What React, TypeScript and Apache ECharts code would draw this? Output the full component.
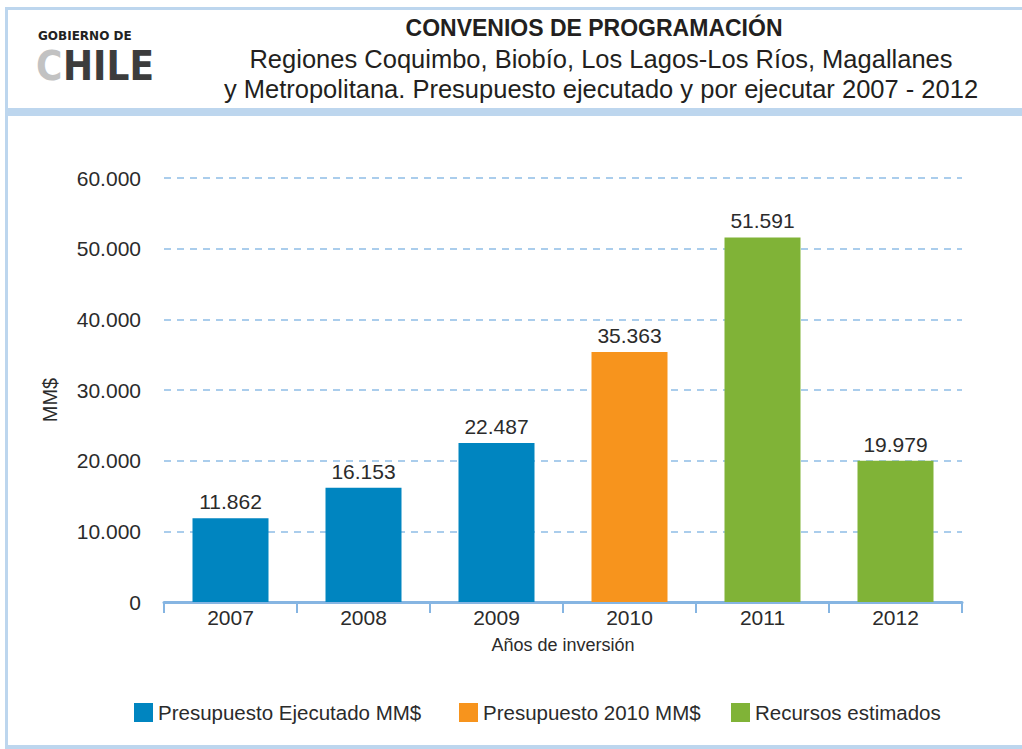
import React, { useEffect, useRef } from "react";
import * as echarts from "echarts";

const categories = ["2007", "2008", "2009", "2010", "2011", "2012"];
const ejecutado = [11862, 16153, 22487, "-", "-", "-"];
const presupuesto2010 = ["-", "-", "-", 35363, "-", "-"];
const estimados = ["-", "-", "-", "-", 51591, 19979];
const seriesNames = ["Presupuesto Ejecutado MM$", "Presupuesto 2010 MM$", "Recursos estimados"];
const yTicks = { min: 0, max: 60000, interval: 10000 };

const FONT = "'Liberation Sans', Arial, sans-serif";
const TXT = "#2b2b2b";
const FRAME = "#bdd6ee";
const fmt = (v: number) => String(v).replace(/\B(?=(\d{3})+(?!\d))/g, ".");

export default function App() {
  const ref = useRef<HTMLDivElement>(null);
  useEffect(() => {
    if (!ref.current) return;
    const chart = echarts.init(ref.current, null, { renderer: "svg" });
    const label = {
      show: true,
      position: "top",
      distance: 6,
      fontFamily: FONT,
      fontSize: 21,
      color: TXT,
      formatter: (p: any) => fmt(p.value),
    };
    const colors = ["#0085c0", "#f7941d", "#80b337"];
    const datas = [ejecutado, presupuesto2010, estimados];
    const legendLefts = [134, 459, 731];
    chart.setOption({
      animation: false,
      backgroundColor: "#ffffff",
      title: [
        {
          text: "CONVENIOS DE PROGRAMACIÓN",
          left: 589,
          top: 11,
          textAlign: "center",
          textStyle: { fontFamily: FONT, fontWeight: "bold", fontSize: 23, color: "#231f20" },
        },
        {
          text: "Regiones Coquimbo, Biobío, Los Lagos-Los Ríos, Magallanes\ny Metropolitana. Presupuesto ejecutado y por ejecutar 2007 - 2012",
          left: 596,
          top: 39,
          textAlign: "center",
          textStyle: { fontFamily: FONT, fontWeight: "normal", fontSize: 25.5, lineHeight: 30, color: "#231f20" },
        },
      ],
      legend: seriesNames.map((n, i) => ({
        data: [n],
        left: legendLefts[i],
        top: 702,
        padding: 0,
        itemWidth: 19,
        itemHeight: 19,
        icon: "rect",
        selectedMode: false,
        textStyle: { fontFamily: FONT, fontSize: 20.5, color: TXT },
      })),
      grid: { left: 164, right: 60, top: 178, bottom: 147 },
      xAxis: {
        type: "category",
        data: categories,
        name: "Años de inversión",
        nameLocation: "middle",
        nameGap: 34,
        nameTextStyle: { fontFamily: FONT, fontSize: 18, color: TXT },
        axisLine: { lineStyle: { color: "#86b5e2", width: 3 } },
        axisTick: { show: true, length: 11, lineStyle: { color: "#86b5e2", width: 2 } },
        axisLabel: { fontFamily: FONT, fontSize: 21, color: TXT, margin: 5 },
      },
      yAxis: {
        type: "value",
        min: yTicks.min,
        max: yTicks.max,
        interval: yTicks.interval,
        name: "MM$",
        nameLocation: "middle",
        nameGap: 104,
        nameRotate: 90,
        nameTextStyle: { fontFamily: FONT, fontSize: 20, color: TXT, padding: [0, 20, 0, 0] },
        axisLine: { show: false },
        axisTick: { show: false },
        axisLabel: { fontFamily: FONT, fontSize: 21, color: TXT, margin: 23, formatter: (v: number) => fmt(v) },
        splitLine: { lineStyle: { color: "#8fbde6", type: [7, 6], width: 1.5 } },
      },
      series: datas.map((d, i) => ({
        type: "bar",
        name: seriesNames[i],
        stack: "total",
        data: d,
        barWidth: 76,
        itemStyle: { color: colors[i] },
        label,
      })),
      graphic: [
        { type: "rect", shape: { x: 5, y: 7, width: 3, height: 742 }, style: { fill: FRAME }, silent: true },
        { type: "rect", shape: { x: 5, y: 7, width: 1017, height: 3 }, style: { fill: FRAME }, silent: true },
        { type: "rect", shape: { x: 5, y: 108, width: 1017, height: 8 }, style: { fill: FRAME }, silent: true },
        { type: "rect", shape: { x: 5, y: 745, width: 1017, height: 4 }, style: { fill: FRAME }, silent: true },
        {
          type: "text",
          left: 38,
          top: 30,
          style: { text: "GOBIERNO DE", font: "bold 12px 'DejaVu Sans', sans-serif", fill: "#222" },
          silent: true,
        },
        {
          type: "text",
          left: 36,
          top: 46,
          style: { text: "C", font: "bold 40px 'DejaVu Sans Condensed', sans-serif", fill: "#c2c2c2" },
          silent: true,
        },
        {
          type: "text",
          left: 63,
          top: 46,
          style: { text: "HILE", font: "bold 40px 'DejaVu Sans Condensed', sans-serif", fill: "#3c3c3c" },
          silent: true,
        },
      ],
    });
    return () => chart.dispose();
  }, []);
  return <div ref={ref} style={{ position: "fixed", left: 0, top: 0, width: 1022, height: 749 }} />;
}
